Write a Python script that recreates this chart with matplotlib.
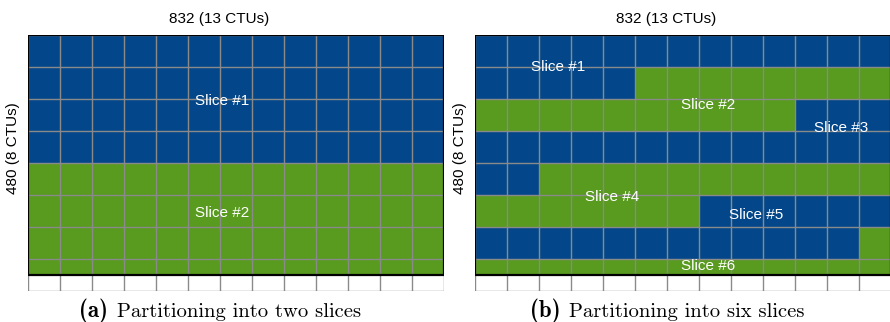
import matplotlib
matplotlib.use("Agg")
import matplotlib.pyplot as plt
from matplotlib.patches import Rectangle
from matplotlib.offsetbox import TextArea, HPacker, AnnotationBbox

# Frame size in luma samples and CTU size
FRAME_W = 832
FRAME_H = 480
CTU = 64

# Number of CTUs in each slice (raster scan order)
slices_two = [52, 52]
slices_six = [18, 18, 18, 18, 18, 14]

slice_labels_two = ["Slice #1", "Slice #2"]
slice_labels_six = ["Slice #1", "Slice #2", "Slice #3", "Slice #4", "Slice #5", "Slice #6"]

captions = ["(a)", "(b)"]
caption_texts = ["Partitioning into two slices", "Partitioning into six slices"]

# where the slice names go (in samples)
label_pos_two = [(388, 132), (388, 356)]
label_pos_six = [(166, 64), (466, 140), (732, 186), (274, 324), (562, 360), (466, 462)]

BLUE = "#03478a"
GREEN = "#589b1f"
GRID = "#8a8a8a"


def draw_partition(ax, counts, labels, label_pos, caption, caption_text):
    cols = FRAME_W // CTU
    rows = -(-FRAME_H // CTU)

    idx = 0
    for s, n in enumerate(counts):
        color = BLUE if s % 2 == 0 else GREEN
        for k in range(n):
            r, c = divmod(idx + k, cols)
            y0 = r * CTU
            h = min(CTU, FRAME_H - y0)
            ax.add_patch(Rectangle((c * CTU, y0), CTU, h, facecolor=color,
                                   edgecolor="none", zorder=1))
        idx += n

    # CTU grid, last row sticks out below the picture
    for c in range(cols + 1):
        ax.plot([c * CTU, c * CTU], [0, rows * CTU], color=GRID, lw=1.0, zorder=2)
    for r in range(rows + 1):
        ax.plot([0, FRAME_W], [r * CTU, r * CTU], color=GRID, lw=1.0, zorder=2)

    ax.add_patch(Rectangle((0, 0), FRAME_W, FRAME_H, facecolor="none",
                           edgecolor="black", lw=1.6, zorder=3))

    for text, (x, y) in zip(labels, label_pos):
        ax.text(x, y, text, color="white", fontsize=11, ha="center", va="center",
                family="Liberation Sans", zorder=4)

    ax.text(382, -32, f"{FRAME_W} ({cols} CTUs)", fontsize=11, ha="center",
            va="center", family="Liberation Sans", clip_on=False)
    ax.text(-30, 226, f"{FRAME_H} ({rows} CTUs)", fontsize=11, ha="center",
            va="center", rotation=90, family="Liberation Sans", clip_on=False)

    # sub-figure caption: bold tag followed by roman text
    tag = TextArea(caption, textprops=dict(family="cmb10", fontsize=16.5))
    body = TextArea(caption_text, textprops=dict(family="cmr10", fontsize=14.8))
    box = HPacker(children=[tag, body], align="baseline", pad=0, sep=6)
    ab = AnnotationBbox(box, (384, 552), xycoords="data", frameon=False,
                        box_alignment=(0.5, 0.5), annotation_clip=False)
    ax.add_artist(ab)

    ax.set_xlim(0, FRAME_W)
    ax.set_ylim(rows * CTU, 0)
    ax.axis("off")


def main():
    fig = plt.figure(figsize=(8.9, 3.22), dpi=100)

    ax_a = fig.add_axes([28 / 890, 1 - 291 / 322, 416 / 890, 256 / 322])
    ax_b = fig.add_axes([475 / 890, 1 - 291 / 322, 416 / 890, 256 / 322])
    for ax in (ax_a, ax_b):
        ax.patch.set_visible(False)

    draw_partition(ax_a, slices_two, slice_labels_two, label_pos_two,
                   captions[0], caption_texts[0])
    draw_partition(ax_b, slices_six, slice_labels_six, label_pos_six,
                   captions[1], caption_texts[1])

    fig.savefig("out.png", dpi=100)
    plt.close(fig)


if __name__ == "__main__":
    main()
